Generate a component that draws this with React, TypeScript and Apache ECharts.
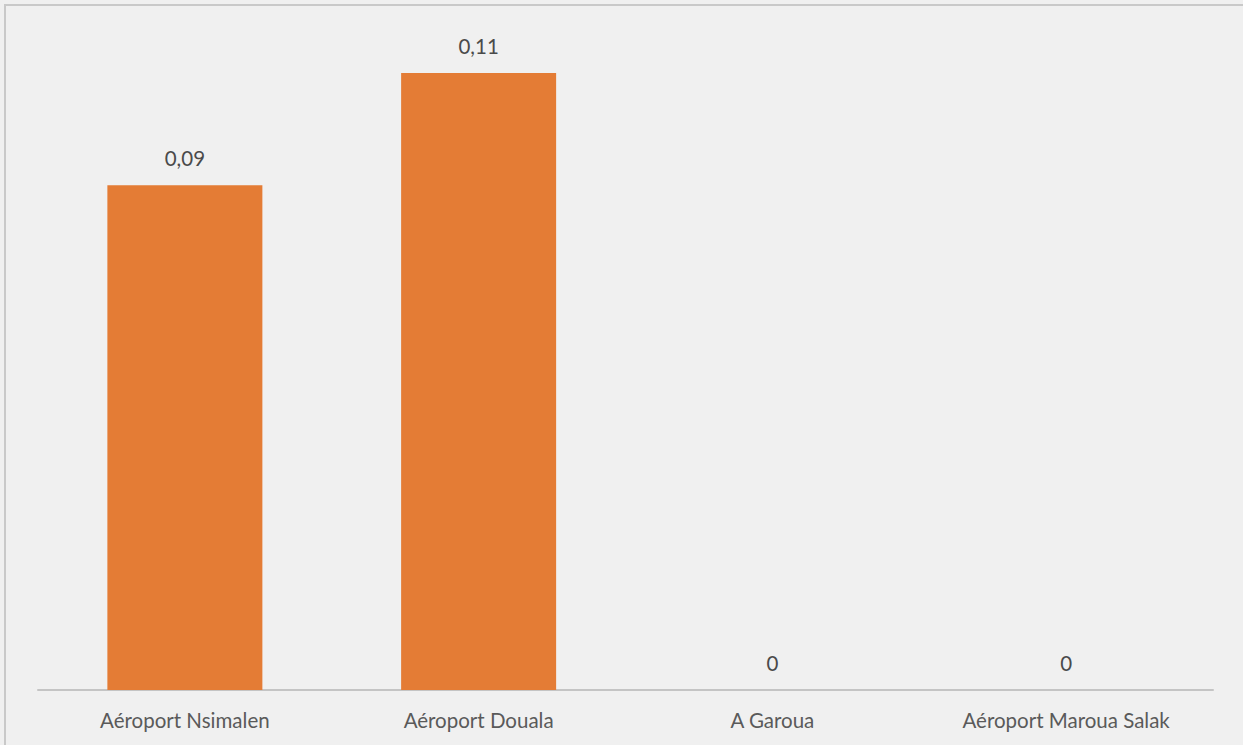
import React, { useEffect, useRef } from "react";
import * as echarts from "echarts";

const categories = ["Aéroport Nsimalen", "Aéroport Douala", "A Garoua", "Aéroport Maroua Salak"];
const values = [0.09, 0.11, 0, 0];

export default function App() {
  const ref = useRef<HTMLDivElement>(null);
  useEffect(() => {
    document.body.style.margin = "0";
    const chart = echarts.init(ref.current!, null, { renderer: "svg" });
    chart.setOption({
      animation: false,
      backgroundColor: "#f0f0f0",
      graphic: [
        {
          type: "rect",
          shape: { x: 5, y: 5, width: 1260, height: 760 },
          style: { fill: "none", stroke: "#c9c9c9", lineWidth: 2 },
          silent: true,
        },
      ],
      grid: { left: 38, right: 30, top: 17, bottom: 55 },
      xAxis: {
        type: "category",
        data: categories,
        axisLine: { lineStyle: { color: "#c4c4c4", width: 2 } },
        axisTick: { show: false },
        axisLabel: {
          color: "#5a5a5a",
          fontFamily: "Lato, 'Open Sans', sans-serif",
          fontSize: 20.5,
          margin: 19,
        },
      },
      yAxis: {
        type: "value",
        min: 0,
        max: 0.12,
        show: false,
        splitLine: { show: false },
      },
      series: [
        {
          type: "bar",
          data: values,
          barWidth: 155,
          itemStyle: { color: "#e47c35" },
          label: {
            show: true,
            position: "top",
            distance: 17,
            color: "#4a4a4a",
            fontFamily: "Lato, 'Open Sans', sans-serif",
            fontSize: 20.5,
            formatter: (p: any) => String(p.value).replace(".", ","),
          },
        },
      ],
    });
    return () => chart.dispose();
  }, []);
  return <div ref={ref} style={{ width: 1243, height: 745 }} />;
}
